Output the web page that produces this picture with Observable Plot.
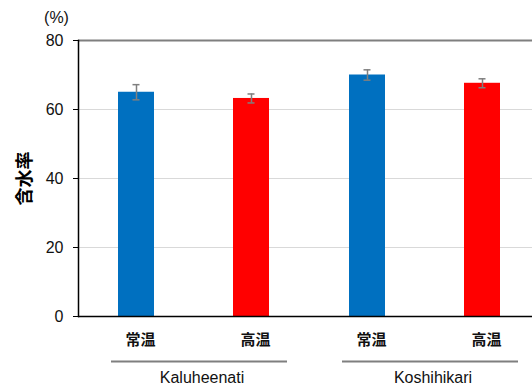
<!DOCTYPE html>
<html>
<head>
<meta charset="utf-8">
<script src="https://cdn.jsdelivr.net/npm/d3@7"></script>
<script src="https://cdn.jsdelivr.net/npm/@observablehq/plot@0.6"></script>
<style>
  html, body { margin: 0; padding: 0; background: #fff; }
  #chart svg { display: block; }
</style>
</head>
<body>
<div id="chart"></div>
<script>
// Water content (%) by variety and temperature treatment
const varieties = ["Kaluheenati", "Kaluheenati", "Koshihikari", "Koshihikari"];
const treatments = ["常温", "高温", "常温", "高温"];
const means = [65.0, 63.2, 70.0, 67.6];
const errors = [2.2, 1.3, 1.5, 1.3];
const yTicks = [0, 20, 40, 60, 80];
const treatmentColors = {"常温": "#0070C0", "高温": "#FF0000"};

const rows = means.map((m, i) => ({
  variety: varieties[i],
  treatment: treatments[i],
  mean: m,
  lo: m - errors[i],
  hi: m + errors[i]
}));

const gridLight = yTicks.filter(t => t > 0 && t < 80);
const gridTop = yTicks.filter(t => t === 80);

const chart = Plot.plot({
  width: 532,
  height: 387,
  marginLeft: 78,
  marginRight: -8,
  marginTop: 40,
  marginBottom: 71,
  style: {fontFamily: "'Liberation Sans', Arial, 'Noto Sans CJK JP', sans-serif", fontSize: "15px", color: "#111"},
  fx: {domain: ["Kaluheenati", "Koshihikari"], padding: 0},
  x: {domain: ["常温", "高温"], paddingInner: 0.685, paddingOuter: 0.3425},
  y: {domain: [0, 80], ticks: yTicks},
  marks: [
    Plot.ruleY(gridLight, {stroke: "#d9d9d9", strokeWidth: 1.2}),
    Plot.ruleY(gridTop, {stroke: "#7f7f7f", strokeWidth: 2}),
    Plot.barY(rows, {fx: "variety", x: "treatment", y: "mean", fill: d => treatmentColors[d.treatment]}),
    Plot.ruleX(rows, {fx: "variety", x: "treatment", y1: "lo", y2: "hi", stroke: "#7f7f7f", strokeWidth: 1.5}),
    Plot.tickY(rows, {fx: "variety", x: "treatment", y: "lo", stroke: "#7f7f7f", strokeWidth: 1.5, insetLeft: 14.5, insetRight: 14.5}),
    Plot.tickY(rows, {fx: "variety", x: "treatment", y: "hi", stroke: "#7f7f7f", strokeWidth: 1.5, insetLeft: 14.5, insetRight: 14.5}),
    Plot.ruleY([0], {stroke: "#000", strokeWidth: 1.5}),
    Plot.frame({anchor: "left", facetAnchor: "left", stroke: "#000", strokeWidth: 1.5}),
    Plot.axisY({ticks: yTicks, tickSize: 5, tickPadding: 10, label: null, fontSize: 16, stroke: "#000"}),
    Plot.axisY({ticks: [], tickSize: 0, label: "含水率", labelAnchor: "center", labelArrow: "none", labelOffset: 60, fontSize: 18, fontWeight: "bold", fill: "#000"}),
    Plot.text(["(%)"], {text: d => d, frameAnchor: "top-left", textAnchor: "middle", lineAnchor: "middle", dx: -22, dy: -23, fontSize: 16, facetAnchor: "left"}),
    Plot.axisX({tickSize: 0, tickPadding: 18, dx: 4, label: null, fontSize: 15, fontWeight: "bold", fill: "#111"}),
    // bracket under each variety's pair of bars
    Plot.ruleY([0], {dy: 45, insetLeft: 33, insetRight: 22, stroke: "#7f7f7f", strokeWidth: 1.8}),
    Plot.axisFx({anchor: "bottom", tickSize: 0, tickPadding: 55, dx: 8, label: null, fontSize: 16, letterSpacing: 0.6})
  ]
});

document.getElementById("chart").append(chart);
</script>
</body>
</html>
